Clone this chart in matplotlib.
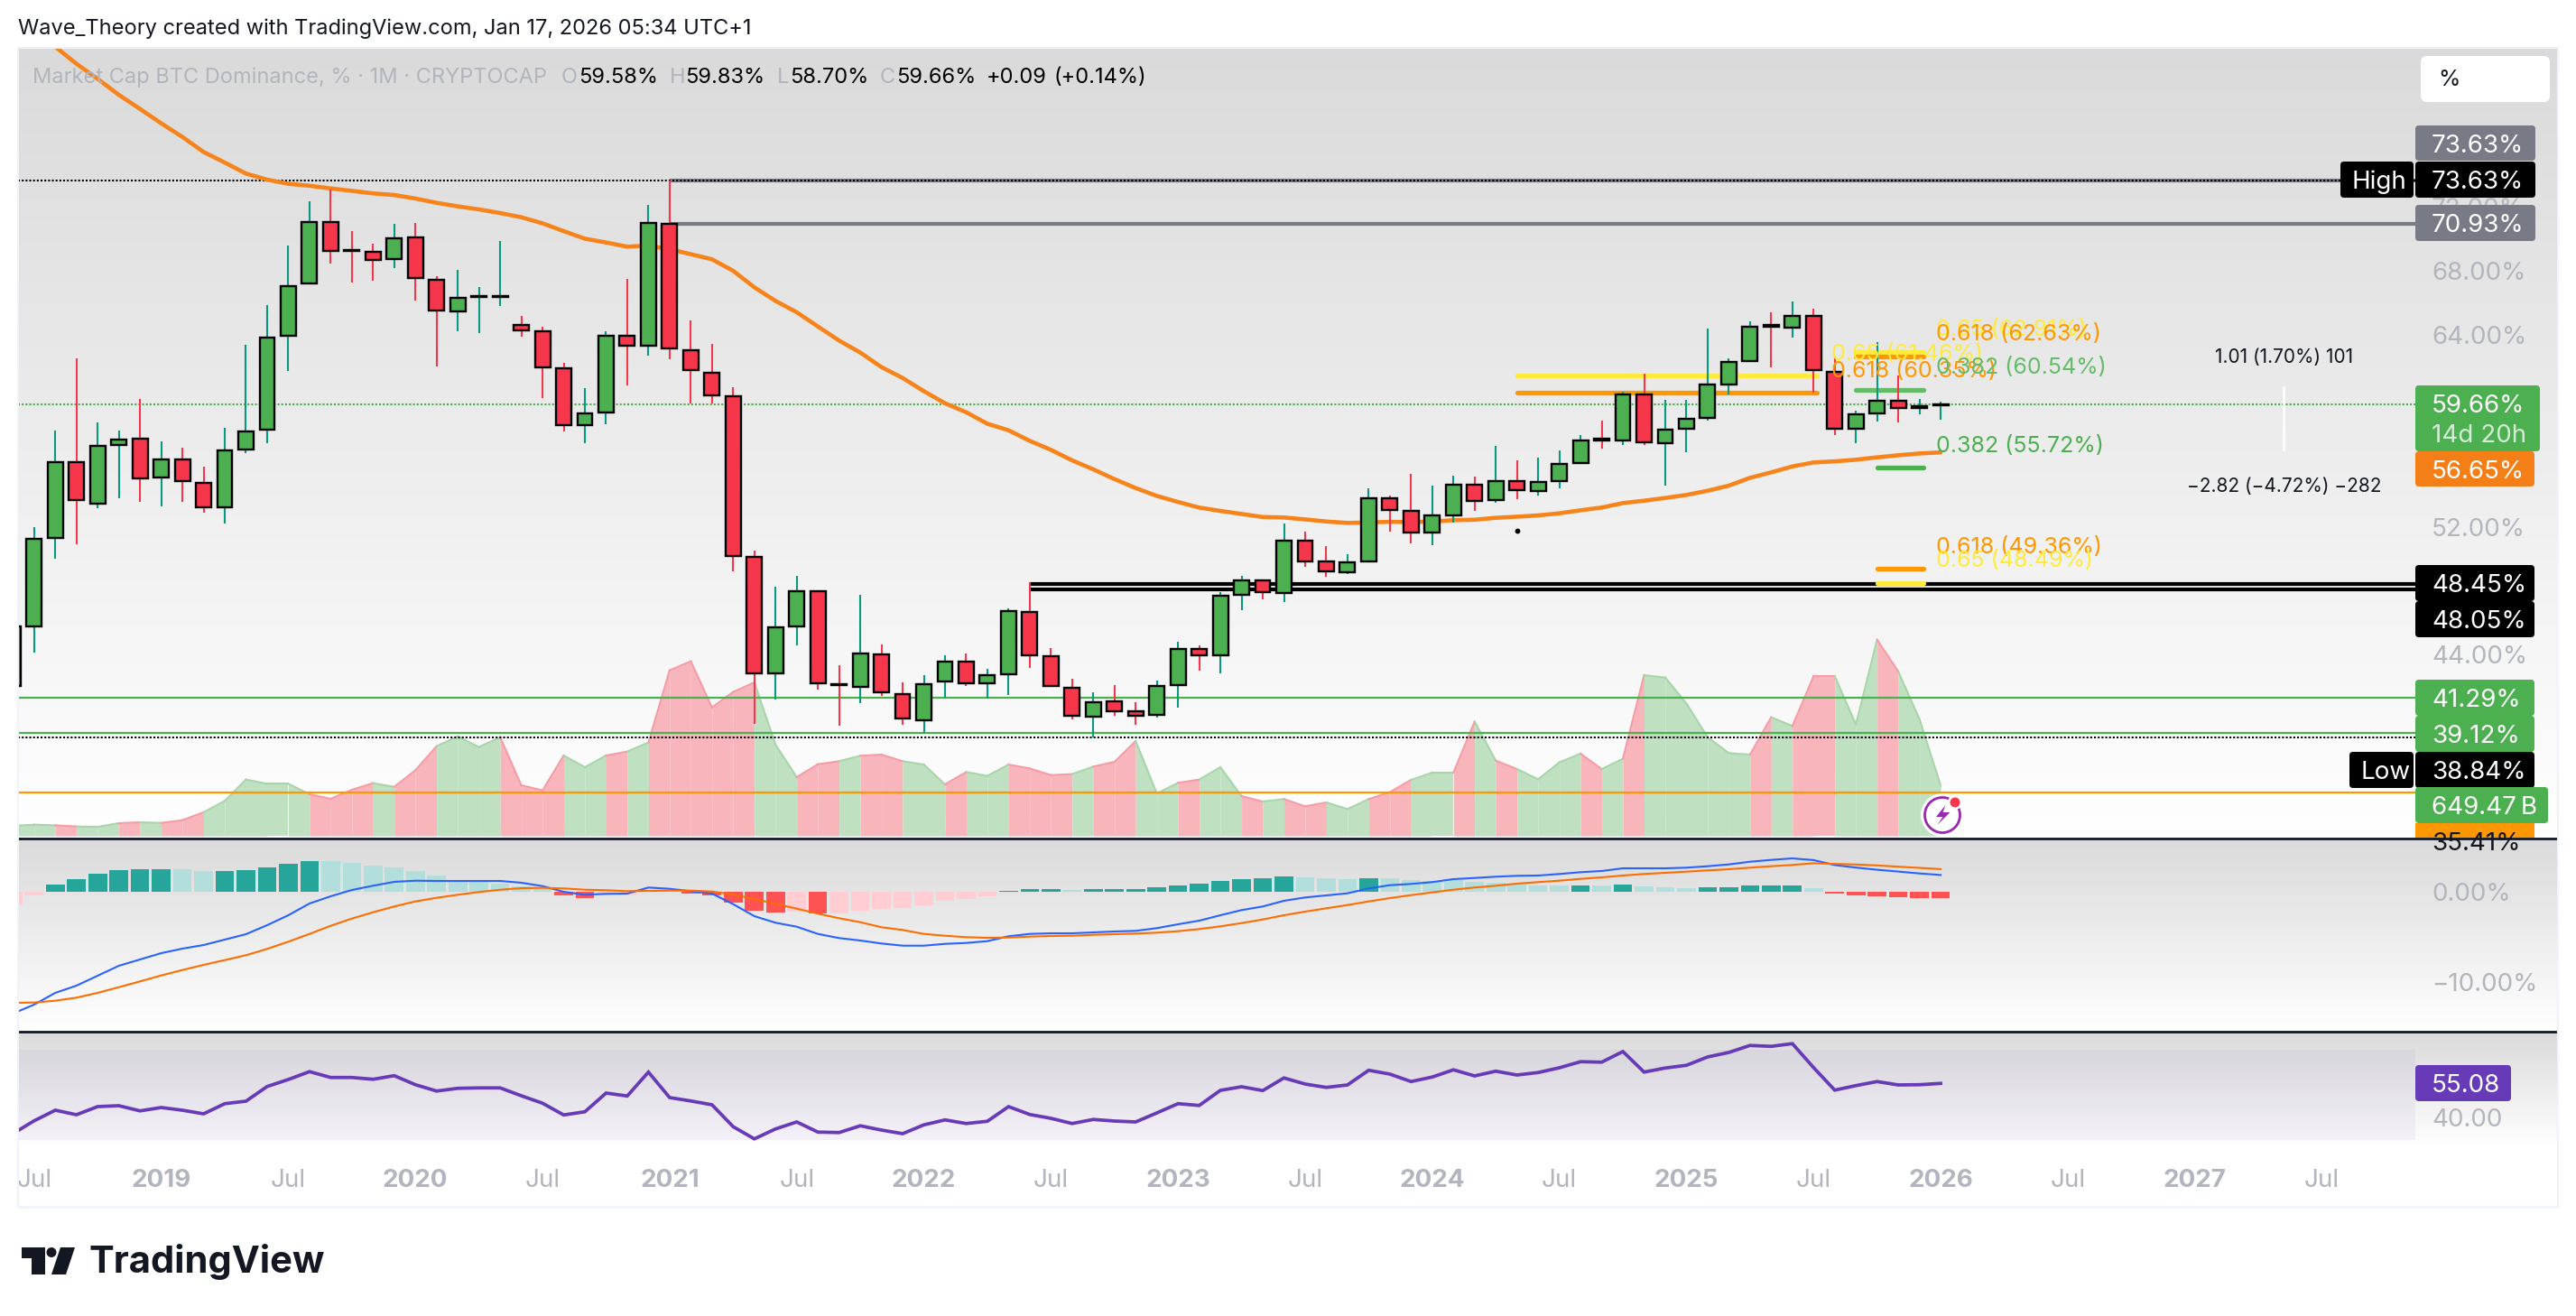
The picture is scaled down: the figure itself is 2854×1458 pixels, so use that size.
import numpy as np
import matplotlib
matplotlib.use('Agg')
import matplotlib.pyplot as plt
from matplotlib.patches import FancyBboxPatch, Rectangle, Circle, Polygon

plt.rcParams['font.family'] = ['Inter', 'DejaVu Sans']

W, H = 2854, 1458

# months since Jan 2019, one candle per month
months = list(range(-7, 85))
opens = [42.04, 45.77, 51.30, 56.05, 53.44, 57.11, 57.51, 55.08, 56.22, 54.76, 53.22, 56.83, 58.07, 63.94, 67.21, 71.06,
         69.32, 69.20, 68.73, 70.11, 67.44, 65.46, 66.39, 66.39, 64.63, 64.24, 61.91, 58.37, 59.16, 63.96, 63.33, 70.94,
         63.04, 61.62, 60.16, 50.13, 42.83, 45.77, 47.98, 42.16, 41.99, 44.02, 41.55, 39.90, 42.32, 43.58, 42.21, 42.78,
         46.69, 43.92, 41.95, 40.12, 41.10, 40.48, 40.24, 42.10, 44.37, 43.96, 47.74, 48.65, 47.86, 51.15, 49.85, 49.15,
         49.83, 53.80, 53.01, 51.64, 52.71, 54.64, 53.67, 54.87, 54.23, 54.85, 55.98, 57.48, 57.39, 60.29, 57.22, 58.13,
         58.80, 60.89, 62.36, 64.59, 64.45, 65.20, 61.70, 58.13, 59.09, 59.89, 59.42, 59.58]
highs = [46.00, 51.97, 58.03, 62.54, 58.52, 58.01, 60.00, 57.34, 56.94, 55.76, 58.18, 63.37, 65.86, 69.58, 72.35, 73.08,
         70.48, 69.69, 70.94, 70.99, 67.66, 68.06, 66.98, 69.86, 65.18, 64.50, 62.25, 60.67, 64.22, 67.49, 72.12, 73.63,
         64.90, 63.43, 60.72, 50.51, 48.25, 48.93, 47.98, 43.34, 47.74, 44.64, 42.27, 42.72, 43.96, 44.07, 43.11, 46.90,
         48.53, 44.41, 42.49, 41.66, 42.10, 41.03, 42.38, 44.81, 44.58, 47.91, 48.93, 48.65, 52.20, 51.69, 50.79, 50.28,
         54.40, 53.95, 55.30, 54.57, 55.19, 55.13, 57.05, 56.15, 56.30, 56.77, 57.73, 58.63, 60.44, 61.57, 59.93, 59.93,
         64.39, 62.53, 64.84, 65.41, 66.08, 65.63, 62.64, 59.26, 63.54, 61.45, 59.99, 59.83]
lows = [41.90, 44.13, 50.02, 50.90, 53.16, 53.80, 53.57, 53.29, 53.57, 52.89, 52.22, 56.62, 57.24, 61.75, 67.21, 68.45,
        67.28, 67.40, 68.19, 66.16, 62.04, 64.24, 64.11, 65.80, 63.88, 60.06, 57.97, 57.24, 58.41, 60.85, 62.70, 62.49,
        59.72, 59.72, 49.23, 39.69, 41.20, 44.58, 41.82, 39.56, 41.00, 41.44, 39.63, 39.12, 41.31, 42.04, 41.25, 41.48,
        43.17, 42.04, 39.97, 38.84, 40.20, 39.63, 40.07, 40.69, 43.02, 42.83, 46.80, 47.46, 47.31, 49.51, 48.87, 49.04,
        49.80, 51.69, 50.98, 50.85, 52.27, 53.01, 53.52, 53.74, 53.97, 54.42, 55.95, 56.90, 57.13, 57.11, 54.59, 56.68,
        58.65, 60.29, 62.33, 61.98, 63.83, 60.38, 57.75, 57.24, 58.59, 58.54, 59.05, 58.70]
closes = [45.77, 51.26, 56.05, 53.67, 57.05, 57.47, 55.02, 56.21, 54.85, 53.22, 56.77, 57.96, 63.82, 67.06, 71.06, 69.24,
          69.27, 68.68, 70.05, 67.55, 65.52, 66.32, 66.42, 66.42, 64.28, 61.98, 58.37, 59.09, 63.94, 63.32, 70.99, 63.15,
          61.79, 60.21, 50.17, 42.83, 45.71, 47.98, 42.21, 42.09, 44.07, 41.65, 40.01, 42.17, 43.58, 42.21, 42.74, 46.74,
          43.96, 42.04, 40.18, 41.05, 40.46, 40.18, 42.06, 44.37, 43.96, 47.70, 48.65, 47.91, 51.15, 49.83, 49.21, 49.79,
          53.80, 53.05, 51.64, 52.73, 54.64, 53.61, 54.87, 54.29, 54.80, 55.94, 57.41, 57.42, 60.27, 57.28, 58.09, 58.76,
          60.91, 62.32, 64.52, 64.53, 65.20, 61.79, 58.13, 59.05, 59.89, 59.42, 59.55, 59.66]
ma_line = [84.10, 83.05, 82.01, 80.94, 80.00, 79.00, 78.12, 77.22, 76.37, 75.43, 74.77, 74.08, 73.70, 73.44, 73.32, 73.15,
           73.00, 72.84, 72.74, 72.52, 72.25, 72.03, 71.84, 71.61, 71.35, 70.97, 70.48, 70.01, 69.77, 69.51, 69.58, 69.35,
           69.04, 68.72, 68.00, 66.97, 66.12, 65.41, 64.52, 63.64, 62.89, 61.98, 61.30, 60.48, 59.72, 59.16, 58.44, 58.03,
           57.37, 56.81, 56.15, 55.59, 54.98, 54.42, 53.93, 53.55, 53.20, 52.99, 52.80, 52.61, 52.58, 52.46, 52.33, 52.24,
           52.27, 52.31, 52.29, 52.33, 52.41, 52.44, 52.56, 52.63, 52.71, 52.84, 53.03, 53.20, 53.48, 53.63, 53.80, 53.99,
           54.25, 54.57, 55.06, 55.40, 55.77, 56.02, 56.09, 56.19, 56.34, 56.47, 56.58, 56.65]
# volume in billions, on its own hidden scale
volume = [128, 143, 135, 120, 116, 162, 174, 166, 201, 302, 449, 723, 669, 669, 534, 476,
          592, 677, 630, 843, 1152, 1276, 1141, 1268, 650, 584, 1032, 882, 1032, 1083, 1199, 2127,
          2243, 1651, 1848, 1972, 1172, 754, 920, 959, 1029, 1044, 959, 916, 661, 820, 770, 916,
          866, 781, 793, 889, 951, 1218, 545, 681, 723, 882, 510, 441, 472, 379, 429, 344,
          472, 561, 719, 812, 812, 1469, 967, 858, 727, 944, 1056, 858, 990, 2065, 2034, 1701,
          1268, 1063, 1044, 1524, 1411, 2050, 2050, 1431, 2521, 2111, 1500, 649.47]
macd_hist = [-1.37, -0.37, 0.8, 1.4, 2.0, 2.4, 2.5, 2.5, 2.5, 2.3, 2.3, 2.4, 2.7, 3.1, 3.4, 3.4,
             3.2, 2.9, 2.7, 2.3, 1.8, 1.3, 1.1, 0.9, 0.6, 0.3, -0.4, -0.7, -0.2, -0.4, 0.2, 0.2,
             -0.2, -0.4, -1.2, -2.1, -2.3, -2.2, -2.4, -2.4, -2.1, -1.9, -1.8, -1.5, -1.0, -0.8, -0.5, 0.1,
             0.3, 0.3, 0.2, 0.3, 0.3, 0.3, 0.5, 0.7, 0.9, 1.2, 1.4, 1.5, 1.7, 1.6, 1.5, 1.4,
             1.5, 1.5, 1.3, 1.2, 1.3, 1.1, 1.0, 0.9, 0.7, 0.7, 0.7, 0.7, 0.8, 0.6, 0.5, 0.4,
             0.5, 0.5, 0.72, 0.72, 0.72, 0.38, -0.24, -0.41, -0.51, -0.62, -0.72, -0.72]
macd_line = [-13.5, -12.5, -11.2, -10.4, -9.3, -8.2, -7.5, -6.8, -6.3, -5.9, -5.3, -4.7, -3.7, -2.6, -1.3, -0.5,
             0.2, 0.67, 1.1, 1.23, 1.2, 1.2, 1.2, 1.2, 1.0, 0.63, 0.0, -0.33, -0.23, -0.2, 0.47, 0.33,
             0.07, -0.2, -1.37, -2.7, -3.43, -3.87, -4.67, -5.13, -5.4, -5.73, -5.97, -5.97, -5.77, -5.67, -5.47, -4.93,
             -4.67, -4.6, -4.6, -4.5, -4.4, -4.33, -4.03, -3.6, -3.2, -2.6, -2.03, -1.63, -1.0, -0.63, -0.4, -0.17,
             0.37, 0.73, 0.87, 1.07, 1.4, 1.53, 1.67, 1.77, 1.8, 1.97, 2.17, 2.3, 2.6, 2.6, 2.6, 2.67,
             2.83, 3.03, 3.33, 3.53, 3.7, 3.51, 2.96, 2.68, 2.44, 2.24, 2.03, 1.86]
macd_signal = [-12.3, -12.27, -12.07, -11.73, -11.2, -10.57, -9.93, -9.27, -8.67, -8.1, -7.57, -7.03, -6.33, -5.53, -4.67, -3.77,
               -2.97, -2.27, -1.63, -1.07, -0.67, -0.33, -0.03, 0.23, 0.4, 0.43, 0.37, 0.23, 0.17, 0.07, 0.1, 0.13,
               0.13, 0.03, -0.3, -0.8, -1.33, -1.87, -2.43, -2.93, -3.37, -3.93, -4.23, -4.67, -4.87, -5.03, -5.1, -5.07,
               -4.97, -4.9, -4.87, -4.77, -4.7, -4.63, -4.53, -4.37, -4.13, -3.83, -3.47, -3.07, -2.6, -2.2, -1.83, -1.47,
               -1.07, -0.7, -0.37, -0.07, 0.23, 0.47, 0.67, 0.9, 1.07, 1.23, 1.43, 1.6, 1.8, 1.97, 2.1, 2.23,
               2.37, 2.5, 2.67, 2.83, 2.97, 3.16, 3.09, 3.02, 2.92, 2.78, 2.65, 2.51]
rsi_line = [32.8, 38.5, 43.2, 41.2, 44.8, 45.2, 42.9, 44.4, 43.2, 41.6, 46.1, 47.2, 53.7, 56.8, 60.3, 57.7,
            57.7, 56.9, 58.5, 54.5, 51.7, 52.9, 53.1, 53.1, 49.6, 46.3, 41.1, 42.5, 50.8, 49.5, 60.1, 48.8,
            47.3, 45.6, 35.9, 30.5, 34.9, 38.0, 33.5, 33.3, 36.3, 34.4, 32.8, 36.7, 38.9, 37.3, 38.3, 44.8,
            41.3, 39.6, 37.3, 39.1, 38.4, 38.0, 42.0, 46.1, 45.3, 52.0, 53.6, 51.9, 57.5, 54.8, 53.3, 54.4,
            60.9, 59.2, 55.9, 57.9, 61.1, 58.4, 60.5, 58.8, 59.9, 62.0, 64.7, 64.5, 69.2, 60.1, 61.9, 63.1,
            66.8, 68.8, 71.9, 71.5, 72.7, 62.1, 52.1, 54.1, 55.9, 54.4, 54.5, 55.08]
# months whose MACD bar is drawn in the dark shade
hist_dark = [-5, -4, -3, -2, -1, 0, 3, 4, 5, 6, 7, 19, 20, 23, 25, 26, 27, 28, 29, 31, 40, 41, 42, 44, 45, 46, 47, 48, 49, 50,
             51, 52, 53, 57, 67, 69, 73, 74, 75, 76, 77, 79, 80, 81, 82, 83, 84]

# fib levels: value, text, colour, first month, last month, label month, label height
fib_values = [61.46, 60.38, 62.91, 62.63, 60.54, 55.72, 49.36, 48.49]
fib_texts = ['0.65 (61.46%)', '0.618 (60.35%)', '0.65 (62.91%)', '0.618 (62.63%)', '0.382 (60.54%)', '0.382 (55.72%)',
             '0.618 (49.36%)', '0.65 (48.49%)']
fib_colors = ['#FFEB3B', '#FF9800', '#FFEB3B', '#FF9800', '#66BB6A', '#4CAF50', '#FF9800', '#FFEB3B']
fib_starts = [64, 64, 80, 80, 80, 81, 81, 81]
fib_ends = [78.15, 78.15, 83.2, 83.2, 83.2, 83.2, 83.2, 83.2]
fib_label_x = [78.85, 78.85, 83.8, 83.8, 83.8, 83.8, 83.8, 83.8]
fib_label_y = [62.77, 61.70, 64.28, 64.01, 61.91, 57.05, 50.69, 49.85]

price_ticks = list(range(36, 76, 4))
macd_ticks = [0, -10]
rsi_ticks = [40]
tick_months = list(range(-6, 103, 6))

GREEN, RED = '#4CAF50', '#F6364B'
GREY_TXT = '#B2B5BE'
LEFT, RIGHT, EDGE = 20, 2676, 2834
PX_M0, PX_MONTH = 178.6, 23.47
xlim = ((LEFT - PX_M0) / PX_MONTH, (RIGHT - PX_M0) / PX_MONTH)


def pane(y0, y1, z):
    a = fig.add_axes([LEFT / W, 1 - y1 / H, (RIGHT - LEFT) / W, (y1 - y0) / H], zorder=z)
    a.patch.set_visible(False)
    a.set_xlim(*xlim)
    for s in a.spines.values():
        s.set_visible(False)
    a.tick_params(axis='x', length=0, labelbottom=False)
    a.tick_params(axis='y', length=0, left=False, labelleft=False, right=False, labelright=True,
                  labelsize=20, labelcolor=GREY_TXT, pad=13)
    return a


fig = plt.figure(figsize=(W / 100, H / 100), dpi=100, facecolor='white')

# pane backgrounds
bg = fig.add_axes([0, 0, 1, 1], zorder=0)
bg.set_xlim(0, W)
bg.set_ylim(H, 0)
bg.axis('off')
grad = np.linspace(0, 1, 256).reshape(-1, 1)
for y0, y1 in [(53, 928), (928, 1143), (1143, 1270)]:
    bg.imshow(grad, extent=(LEFT, EDGE, y1, y0), cmap=matplotlib.colors.LinearSegmentedColormap.from_list('g', ['#DADADA', '#FFFFFF']),
              aspect='auto', zorder=1)
bg.set_xlim(0, W)
bg.set_ylim(H, 0)

# volume area behind the candles
ax_vol = pane(53, 926, 1)
ax_vol.set_ylim(0, 10127)
ax_vol.set_yticks([])
for i in range(1, len(months)):
    up = closes[i] >= opens[i]
    ax_vol.fill_between(months[i - 1:i + 1], volume[i - 1:i + 1], 0, color='#BFE0C1' if up else '#F9B5BC', lw=0)
    ax_vol.plot(months[i - 1:i + 1], volume[i - 1:i + 1], color='#A8D5AA' if up else '#F59CA6', lw=1.5)

# price pane
ax = pane(53, 926, 2)
ax.set_ylim(32.68, 81.94)
ax.set_yticks(price_ticks)
ax.set_yticklabels(['%.2f%%' % t for t in price_ticks])

dotted = (0, (1, 1))
ax.hlines(73.63, 24, xlim[1], color='#787B86', lw=3)
ax.hlines(70.93, 24, xlim[1], color='#787B86', lw=3)
ax.hlines(73.63, xlim[0], xlim[1], color='black', lw=1.5, linestyles=dotted)
ax.hlines(59.66, xlim[0], xlim[1], color=GREEN, lw=1.5, linestyles=dotted)
ax.hlines(38.84, xlim[0], xlim[1], color='black', lw=1.5, linestyles=dotted)
ax.hlines([41.29, 39.12], xlim[0], xlim[1], color=GREEN, lw=1.6)
ax.hlines(35.38, xlim[0], xlim[1], color='#FF9800', lw=1.6)
ax.hlines([48.45, 48.07], 41, xlim[1], color='black', lw=3)

ax.plot(months, ma_line, color='#F7841B', lw=3.3, solid_capstyle='round')

for val, txt, col, a, b, lx, ly in zip(fib_values, fib_texts, fib_colors, fib_starts, fib_ends, fib_label_x, fib_label_y):
    ax.plot([a, b], [val, val], color=col, lw=3.8, solid_capstyle='round')
    ax.text(lx, ly, txt, color=col, fontsize=18, va='center', ha='left', zorder=8)

for m, o, h, l, c in zip(months, opens, highs, lows, closes):
    up = c >= o
    ax.vlines(m, l, h, color='#089981' if up else RED, lw=1.5, zorder=4)
    ax.bar(m, abs(c - o), bottom=min(o, c), width=0.72, color=GREEN if up else RED, edgecolor='black', lw=1.7, zorder=5)

ax.scatter([64], [51.75], s=10, color='black', zorder=5)
ax.vlines(100.2, 56.77, 60.78, color='white', lw=2)
ax.text(100.2, 62.6, '1.01 (1.70%) 101', fontsize=15, ha='center', va='center', color='#131722')
ax.text(100.2, 54.5, '\u22122.82 (\u22124.72%) \u2212282', fontsize=15, ha='center', va='center', color='#131722')

# MACD pane
ax_macd = pane(930, 1141, 2)
ax_macd.set_ylim(-15.3, 5.8)
ax_macd.set_yticks(macd_ticks)
ax_macd.set_yticklabels(['0.00%', '\u221210.00%'])
for m, v in zip(months, macd_hist):
    if v >= 0:
        col = '#26A69A' if m in hist_dark else '#B2DFDB'
    else:
        col = '#FF5252' if m in hist_dark else '#FFCDD2'
    ax_macd.bar(m, v, width=0.88, color=col, lw=0)
ax_macd.plot(months, macd_line, color='#2962FF', lw=1.5)
ax_macd.plot(months, macd_signal, color='#FF6D00', lw=1.5)

# RSI pane
ax_rsi = pane(1143, 1270, 2)
ax_rsi.set_ylim(27.2, 78)
ax_rsi.axhspan(30, 70, color='#7E57C2', alpha=0.07, lw=0)
ax_rsi.plot(months, rsi_line, color='#673AB7', lw=2.7, solid_joinstyle='miter')
ax_rsi.set_yticks(rsi_ticks)
ax_rsi.set_yticklabels(['%.2f' % t for t in rsi_ticks])
ax_rsi.set_xticks(tick_months)
ax_rsi.set_xticklabels(['Jul' if m % 12 else str(2019 + m // 12) for m in tick_months], color=GREY_TXT, fontsize=20)
ax_rsi.tick_params(axis='x', labelbottom=True, pad=18)
for lab, m in zip(ax_rsi.get_xticklabels(), tick_months):
    if m % 12 == 0:
        lab.set_fontweight('bold')

# overlay in pixels for tags, header, logo
ann = fig.add_axes([0, 0, 1, 1], zorder=10)
ann.patch.set_visible(False)
ann.set_xlim(0, W)
ann.set_ylim(H, 0)
ann.axis('off')


def tag(y0, y1, x1, col, text, fg='white', x0=RIGHT, tx=2694):
    ann.add_patch(FancyBboxPatch((x0, y0), x1 - x0, y1 - y0, boxstyle='round,pad=0,rounding_size=4', fc=col, ec='none'))
    ann.text(tx, (y0 + y1) / 2, text, color=fg, fontsize=20, va='center_baseline', ha='left')


for y in [928.5, 1143]:
    ann.plot([LEFT, EDGE], [y, y], color='#131722', lw=2, solid_capstyle='butt')
ann.plot([LEFT, LEFT], [53, 1337], color='#F0F3FA', lw=1.5)
ann.plot([EDGE, EDGE], [53, 1337], color='#F0F3FA', lw=1.5)
ann.plot([LEFT, EDGE], [1337, 1337], color='#F0F3FA', lw=2)
ann.plot([LEFT, EDGE], [53, 53], color='#F0F3FA', lw=1.5)

# the % button
ann.add_patch(FancyBboxPatch((2682, 62), 143, 51, boxstyle='round,pad=0,rounding_size=7', fc='white', ec='none'))
ann.text(2701, 88, '%', fontsize=18, color='#131722', va='center', ha='left')

tag(139, 178, 2809, '#787B86', '73.63%')
tag(227, 267, 2809, '#787B86', '70.93%')
tag(179, 219, 2809, 'black', '73.63%')
tag(179, 219, 2674, 'black', 'High', x0=2593, tx=2605)
tag(500, 539, 2808, '#F57F17', '56.65%')
tag(427, 500, 2814, GREEN, '', tx=2694)
ann.text(2694, 447, '59.66%', color='white', fontsize=20, va='center_baseline', ha='left')
ann.text(2694, 480, '14d 20h', color='#D6EBD7', fontsize=20, va='center_baseline', ha='left')
tag(626, 666, 2808, 'black', '48.45%')
tag(666, 706, 2808, 'black', '48.05%')
tag(753, 793, 2808, GREEN, '41.29%')
tag(793, 833, 2808, GREEN, '39.12%')
tag(833, 873, 2808, 'black', '38.84%')
tag(833, 873, 2674, 'black', 'Low', x0=2603, tx=2615)
tag(1180, 1220, 2782, '#673AB7', '55.08')

# orange tag is cut off by the pane border
ann.add_patch(Rectangle((RIGHT, 912), 132, 15.5, fc='#FF9800', ec='none'))
t = ann.text(2694, 932, '35.41%', color='#131722', fontsize=20, va='center_baseline', ha='left')
t.set_clip_path(Rectangle((RIGHT, 912), 132, 15.5, transform=ann.transData))
tag(872, 912, 2823, GREEN, '649.47\u2009B')

# volume alert icon
ann.add_patch(Circle((2152, 903), 24, fc='white', ec='none'))
ann.add_patch(Circle((2152, 903), 19.5, fc='white', ec='#9C27B0', lw=2))
ann.add_patch(Polygon([(2155.5, 892), (2145, 905), (2152.5, 905), (2146.4, 914), (2160.4, 900), (2152.5, 900)], fc='#9C27B0', ec='none'))
ann.add_patch(Circle((2166, 889), 8, fc='white', ec='none'))
ann.add_patch(Circle((2166, 889), 5.5, fc=RED, ec='none'))

# header and legend
ann.text(20, 32, 'Wave_Theory created with TradingView.com, Jan 17, 2026 05:34 UTC+1', fontsize=17, color='#131722', va='center', ha='left')
ann.text(36, 86, 'Market Cap BTC Dominance, % \u00b7 1M \u00b7 CRYPTOCAP', fontsize=17, color=GREY_TXT, va='center', ha='left')
for x, txt, col in [(622, 'O', GREY_TXT), (641, '59.58%', 'black'), (742, 'H', GREY_TXT), (759, '59.83%', 'black'),
                    (861, 'L', GREY_TXT), (875, '58.70%', 'black'), (975, 'C', GREY_TXT), (993, '59.66%', 'black'),
                    (1093, '+0.09', 'black'), (1167, '(+0.14%)', 'black')]:
    ann.text(x, 86, txt, fontsize=17, color=col, va='center', ha='left')

# logo
ann.add_patch(Polygon([(24, 1382), (50, 1382), (50, 1412), (35, 1412), (35, 1394), (24, 1394)], fc='#131722', ec='none'))
ann.add_patch(Circle((57, 1387.5), 5.5, fc='#131722', ec='none'))
ann.add_patch(Polygon([(67, 1382), (83, 1382), (73, 1412), (57, 1412)], fc='#131722', ec='none'))
ann.text(98, 1398, 'TradingView', fontsize=30, color='#131722', fontweight='bold', va='center', ha='left')

fig.savefig('out.png', dpi=100, facecolor='white')
